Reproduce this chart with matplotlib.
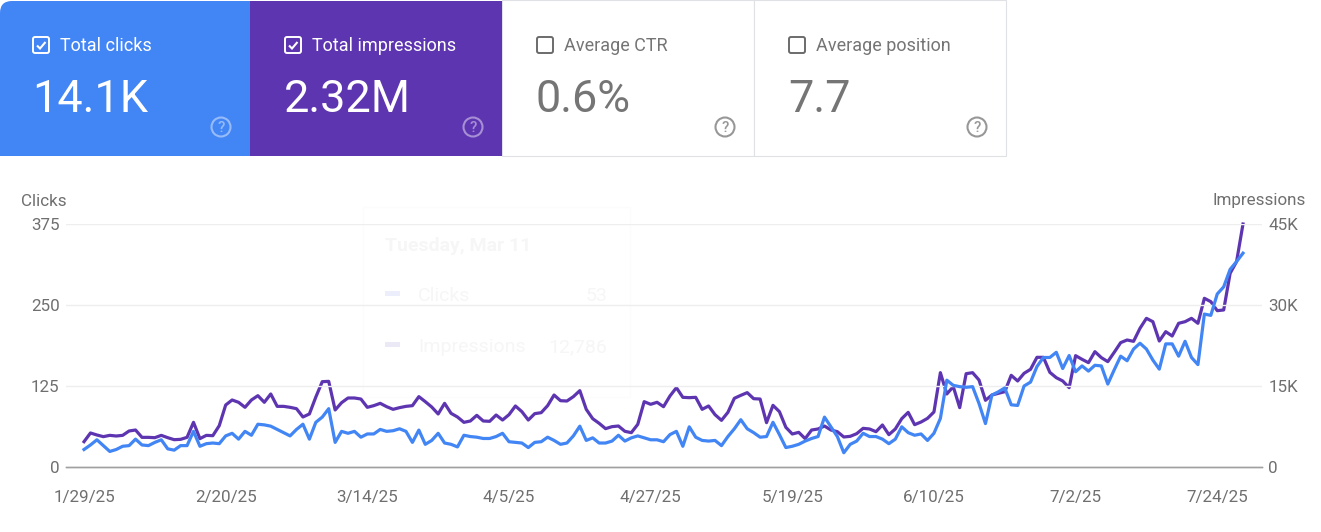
import matplotlib
matplotlib.use("Agg")
import matplotlib.pyplot as plt
from matplotlib.patches import Rectangle, FancyBboxPatch, Circle, PathPatch
from matplotlib.path import Path
import pandas as pd

plt.rcParams['font.family'] = ['Roboto', 'DejaVu Sans']

# ====== DATA =======
START_DATE = "2025-01-29"

clicks = [
    27, 34, 42, 33, 24, 27, 32, 33, 43, 34, 33, 38, 42, 28, 26, 33, 33, 55, 32, 36,
    37, 36, 48, 52, 43, 55, 49, 66, 65, 63, 58, 53, 48, 58, 66, 43, 69, 77, 90, 38,
    55, 52, 55, 46, 51, 51, 58, 55, 56, 59, 55, 38, 57, 35, 41, 52, 37, 35, 31, 49,
    47, 46, 44, 44, 47, 52, 39, 38, 37, 30, 38, 39, 46, 41, 35, 37, 48, 63, 41, 45,
    37, 37, 40, 49, 40, 45, 48, 45, 42, 42, 39, 50, 55, 32, 62, 46, 41, 40, 41, 33,
    47, 59, 73, 59, 53, 46, 47, 69, 50, 30, 32, 35, 40, 44, 47, 77, 62, 47, 22, 35,
    40, 52, 47, 47, 43, 36, 43, 62, 53, 49, 51, 41, 52, 75, 134, 126, 124, 123, 124, 98,
    67, 111, 116, 122, 96, 95, 125, 131, 155, 169, 169, 177, 152, 172, 147, 156, 148, 157, 156, 128,
    150, 171, 164, 182, 191, 182, 165, 151, 190, 190, 171, 194, 169, 158, 236, 234, 267, 278, 305, 317,
    330,
]

impressions = [
    4690, 6300, 5930, 5620, 5860, 5740, 5860, 6670, 6850, 5490, 5490, 5430, 5860, 5430, 5060, 5120, 5490, 8270, 5250, 5860,
    5800, 7650, 11480, 12410, 11980, 11050, 12410, 13210, 11980, 13520, 11230, 11230, 11050, 10800, 9260, 9820, 12960, 15800, 15860, 10560,
    11910, 12780, 12780, 12590, 11050, 11360, 11790, 11170, 10680, 10990, 11230, 11360, 13030, 12100, 11110, 9820, 11790, 9940, 9260, 8270,
    8520, 9570, 8520, 8460, 9630, 8700, 9690, 11300, 10250, 8700, 9880, 10060, 11360, 13330, 12280, 12220, 13030, 14140, 10680, 8950,
    8090, 7100, 7470, 7590, 6610, 6360, 7900, 12100, 11610, 11980, 11170, 13150, 14690, 12900, 12840, 12900, 10680, 11300, 9690, 8640,
    10120, 12720, 13270, 13770, 12650, 12590, 8210, 11420, 10250, 7350, 6110, 6420, 5250, 6850, 7040, 7590, 6850, 6540, 5560, 5680,
    6170, 7160, 7040, 6540, 7780, 5990, 7040, 8950, 10120, 7840, 8330, 9010, 10190, 17470, 13520, 14880, 10990, 17280, 17470, 16110,
    12350, 13330, 13640, 13950, 16980, 15930, 17350, 18090, 20310, 20310, 17530, 16540, 15930, 14690, 20620, 19940, 19320, 21360, 20250, 19510,
    21240, 23030, 23520, 23270, 25680, 27530, 26910, 23330, 25060, 24260, 26610, 26910, 27530, 26610, 31240, 30620, 28950, 29080, 35870, 38030,
    45000,
]

date_ticks = ["2025-01-29", "2025-02-20", "2025-03-14", "2025-04-05", "2025-04-27",
              "2025-05-19", "2025-06-10", "2025-07-02", "2025-07-24"]
date_labels = ["1/29/25", "2/20/25", "3/14/25", "4/5/25", "4/27/25",
               "5/19/25", "6/10/25", "7/2/25", "7/24/25"]
click_ticks = [0, 125, 250, 375]
click_labels = ["0", "125", "250", "375"]
impression_ticks = [0, 15000, 30000, 45000]
impression_labels = ["0", "15K", "30K", "45K"]

card_titles = ["Total clicks", "Total impressions", "Average CTR", "Average position"]
card_values = ["14.1K", "2.32M", "0.6%", "7.7"]

# ====== STYLE =======
W, H = 1321, 532
BLUE = "#4285F4"
PURPLE = "#5E35B1"
GREY_TEXT = "#6f6f6f"
CARD_GREY = "#757575"


def px_font(px):
    # font size in points for a height in pixels at dpi 100
    return px * 0.72


def draw_checkbox(bg, x, y, color, checked):
    bg.add_patch(FancyBboxPatch((x + 1, y + 1), 16, 16, boxstyle="round,pad=0,rounding_size=2",
                                fc="none", ec=color, lw=1.4))
    if checked:
        verts = [(x + 5, y + 9.5), (x + 8, y + 12.5), (x + 13.5, y + 6)]
        codes = [Path.MOVETO, Path.LINETO, Path.LINETO]
        bg.add_patch(PathPatch(Path(verts, codes), fc="none", ec=color, lw=1.5))


def draw_help(bg, x, y, color, alpha):
    bg.add_patch(Circle((x, y), 9.5, fc="none", ec=color, lw=1.5, alpha=alpha))
    bg.text(x, y + 0.5, "?", color=color, alpha=alpha, fontsize=px_font(15), fontweight="medium",
            ha="center", va="center")


def draw_cards(bg):
    # white cards first, the two active ones on top
    for x0, x1 in [(502, 753.5), (753.5, 1005.5)]:
        bg.add_patch(Rectangle((x0, 0), x1 - x0, 155.5, fc="white", ec="#dfe1e4", lw=0.8))
    bg.add_patch(FancyBboxPatch((0, 1), 270, 154.5, boxstyle="round,pad=0,rounding_size=12",
                                fc=BLUE, ec="none"))
    bg.add_patch(Rectangle((12, 1), 238, 154.5, fc=BLUE, ec="none"))
    bg.add_patch(Rectangle((0, 14), 20, 141.5, fc=BLUE, ec="none"))
    bg.add_patch(Rectangle((250, 1), 252, 154.5, fc=PURPLE, ec="none"))

    lefts = [33, 285, 537, 789]
    for i, x in enumerate(lefts):
        active = i < 2
        color = "white" if active else CARD_GREY
        draw_checkbox(bg, x - 1, 36, color if active else "#6b6b6b", active)
        bg.text(x + 27, 46, card_titles[i], color=color, fontsize=px_font(18),
                ha="left", va="center")
        bg.text(x - 1, 112, card_values[i], color=color, fontsize=px_font(45),
                ha="left", va="baseline")
        draw_help(bg, x + 188, 127, "white" if active else CARD_GREY, 0.45 if active else 0.75)


def draw_ghost_tooltip(bg):
    # faded hover card left over behind the chart
    ghost = "#f6f6f6"
    bg.add_patch(Rectangle((363, 207), 267, 190, fc="white", ec="#fcfcfc", lw=0.8))
    bg.text(385, 246, "Tuesday, Mar 11", color=ghost, fontsize=px_font(19.5), fontweight="bold",
            ha="left", va="center")
    bg.add_patch(Rectangle((385, 291), 15, 5, fc="#eceefc", ec="none"))
    bg.add_patch(Rectangle((385, 342), 15, 5, fc="#ebe9f5", ec="none"))
    bg.text(418, 296, "Clicks", color=ghost, fontsize=px_font(19.5), ha="left", va="center")
    bg.text(607, 296, "53", color=ghost, fontsize=px_font(19.5), ha="right", va="center")
    bg.text(418, 347, "Impressions", color=ghost, fontsize=px_font(19.5), ha="left", va="center")
    bg.text(607, 347, "12,786", color=ghost, fontsize=px_font(19.5), ha="right", va="center")


def draw_chart(fig):
    dates = pd.date_range(START_DATE, periods=len(clicks), freq="D")
    ax = fig.add_axes([66 / W, 1 - 467 / H, (1262 - 66) / W, (467 - 224) / H], zorder=3)
    ax2 = ax.twinx()
    ax.set_zorder(ax2.get_zorder() + 1)
    ax.patch.set_visible(False)
    ax2.patch.set_visible(False)

    ax2.plot(dates, impressions, color=PURPLE, lw=2.3, clip_on=False, solid_joinstyle="round")
    ax.plot(dates, clicks, color=BLUE, lw=2.3, clip_on=False, solid_joinstyle="round")

    ax.set_xlim(dates[0] - pd.Timedelta(days=2.8), dates[-1] + pd.Timedelta(days=2.95))
    ax.set_ylim(0, 375)
    ax2.set_ylim(0, 45000)

    ax.set_xticks(pd.to_datetime(date_ticks))
    ax.set_xticklabels(date_labels)
    ax.set_yticks(click_ticks)
    ax.set_yticklabels(click_labels)
    ax2.set_yticks(impression_ticks)
    ax2.set_yticklabels(impression_labels)

    ax.grid(True, axis="y", color="#eeeeee", lw=1.0)
    ax.set_axisbelow(True)
    for a in (ax, ax2):
        for side in ("top", "left", "right"):
            a.spines[side].set_visible(False)
        a.spines["bottom"].set_color("#a0a0a0")
        a.spines["bottom"].set_linewidth(1.0)
    ax.tick_params(axis="x", length=0, pad=16.5, labelsize=px_font(17), labelcolor=GREY_TEXT)
    ax.tick_params(axis="y", length=0, pad=4.5, labelsize=px_font(17), labelcolor=GREY_TEXT)
    ax2.tick_params(axis="y", length=0, pad=4.5, labelsize=px_font(17), labelcolor=GREY_TEXT)


def main():
    fig = plt.figure(figsize=(W / 100, H / 100), dpi=100, facecolor="white")

    bg = fig.add_axes([0, 0, 1, 1], zorder=1)
    bg.set_xlim(0, W)
    bg.set_ylim(H, 0)
    bg.axis("off")

    draw_cards(bg)
    draw_ghost_tooltip(bg)
    bg.text(21, 201, "Clicks", color=GREY_TEXT, fontsize=px_font(17), ha="left", va="center")
    bg.text(1306, 201, "Impressions", color=GREY_TEXT, fontsize=px_font(17), ha="right", va="center")

    draw_chart(fig)

    fig.savefig("out.png", dpi=100)
    plt.close(fig)


if __name__ == "__main__":
    main()
